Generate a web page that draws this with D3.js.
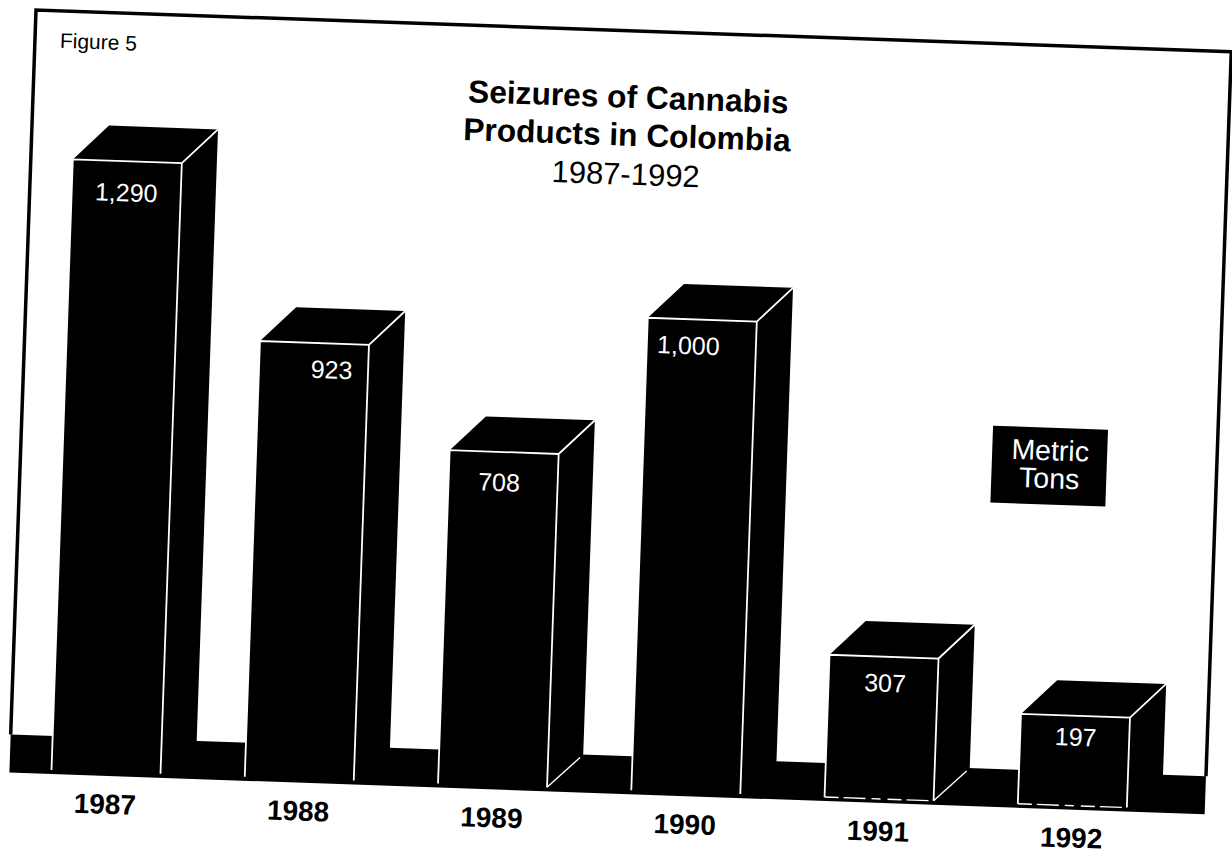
<!DOCTYPE html>
<html>
<head>
<meta charset="utf-8">
<script src="https://cdn.jsdelivr.net/npm/d3@7"></script>
<style>
  body { margin: 0; background: #fff; }
  svg { display: block; font-family: "Liberation Sans", Arial, sans-serif; }
</style>
</head>
<body>
<svg id="chart" width="1232" height="854"></svg>
<script>
const years = ["1987", "1988", "1989", "1990", "1991", "1992"]
const tons = [1290, 923, 708, 1000, 307, 197]
const valueLabels = ["1,290", "923", "708", "1,000", "307", "197"]
const titleLines = ["Seizures of Cannabis", "Products in Colombia", "1987-1992"]
const unitLines = ["Metric", "Tons"]

// label offsets from the bar centre, the originals were pasted on by hand
const labelNudgeX = [0, 18, -4, -13, 2, 1]
const labelNudgeY = [40, 35, 39, 35, 35, 30]

// the scan is about 2 degrees off, so everything hangs off one rotated group
const tilt = 2
const frameW = 1196
const baseY = 759    // bottom of front faces
const bandTop = 725
const bandBottom = 763
const depth = 35

const svg = d3.select("#chart")
const g = svg.append("g").attr("transform", `translate(36,10) rotate(${tilt})`)

const x = d3.scaleBand()
  .domain(years)
  .range([42, 1118])
  .paddingInner(0.436)
  .paddingOuter(0)

const y = d3.scaleLinear()
  .domain([0, 1290])
  .range([bandBottom, 148])

// frame
g.append("path")
  .attr("d", `M0,${bandTop} V0 H${frameW} V${bandTop}`)
  .attr("fill", "none")
  .attr("stroke", "#000")
  .attr("stroke-width", 3.5)

// floor band
g.append("rect")
  .attr("x", 0)
  .attr("y", bandTop)
  .attr("width", frameW)
  .attr("height", bandBottom - bandTop)
  .attr("fill", "#000")

const bars = g.selectAll(".bar")
  .data(years.map((year, i) => ({ year, value: tons[i], label: valueLabels[i], i })))
  .enter().append("g")
    .attr("class", "bar")

// top face
bars.append("path")
  .attr("d", d => {
    const x0 = x(d.year), x1 = x0 + x.bandwidth(), t = y(d.value)
    return `M${x0},${t} L${x0 + depth},${t - depth} H${x1 + depth} L${x1},${t} Z`
  })
  .attr("fill", "#000")

// side face
bars.append("path")
  .attr("d", d => {
    const x1 = x(d.year) + x.bandwidth(), t = y(d.value)
    return `M${x1},${t} L${x1 + depth},${t - depth} V${bandTop} L${x1},${baseY} Z`
  })
  .attr("fill", "#000")

// front face
bars.append("rect")
  .attr("x", d => x(d.year))
  .attr("y", d => y(d.value))
  .attr("width", x.bandwidth())
  .attr("height", d => baseY - y(d.value))
  .attr("fill", "#000")

// white edges
bars.append("path")
  .attr("d", d => {
    const x0 = x(d.year), x1 = x0 + x.bandwidth(), t = y(d.value)
    return `M${x0},${baseY} V${t} H${x1} V${baseY} M${x1},${t} L${x1 + depth},${t - depth}`
  })
  .attr("fill", "none")
  .attr("stroke", "#fff")
  .attr("stroke-width", 1.8)

// the bottom edge only survives the copier on the short bars
bars.filter(d => d.value < 400).append("path")
  .attr("d", d => `M${x(d.year)},${baseY} h${x.bandwidth()}`)
  .attr("stroke", "#fff")
  .attr("stroke-width", 1.4)
  .attr("stroke-dasharray", "14 5 22 6 9 7")

bars.filter(d => d.year === "1989" || d.year === "1991").append("path")
  .attr("d", d => {
    const x1 = x(d.year) + x.bandwidth()
    return `M${x1},${baseY} L${x1 + depth - 3},${bandTop + 3}`
  })
  .attr("stroke", "#fff")
  .attr("stroke-width", 1.4)

bars.append("text")
  .attr("x", d => x(d.year) + x.bandwidth() / 2 + labelNudgeX[d.i])
  .attr("y", d => y(d.value) + labelNudgeY[d.i])
  .attr("text-anchor", "middle")
  .attr("fill", "#fff")
  .attr("font-size", 25)
  .text(d => d.label)

// year axis
const axis = g.append("g")
  .attr("transform", `translate(0,${bandBottom})`)
  .call(d3.axisBottom(x).tickSize(0).tickPadding(18))
axis.select(".domain").remove()
axis.selectAll("text")
  .attr("font-family", "Liberation Sans")
  .attr("font-size", 28)
  .attr("font-weight", "bold")
  .attr("fill", "#000")

g.append("text")
  .attr("x", 25)
  .attr("y", 37)
  .attr("font-size", 21)
  .text("Figure 5")

// title
const titleY = [77, 115, 154]
g.selectAll(".title")
  .data(titleLines)
  .enter().append("text")
    .attr("class", "title")
    .attr("x", 595)
    .attr("y", (d, i) => titleY[i])
    .attr("text-anchor", "middle")
    .attr("font-size", (d, i) => i < 2 ? 31.7 : 31)
    .attr("font-weight", (d, i) => i < 2 ? "bold" : "normal")
    .text(d => d)

// unit box
g.append("rect")
  .attr("x", 971)
  .attr("y", 382)
  .attr("width", 115)
  .attr("height", 77)
  .attr("fill", "#000")

g.selectAll(".unit")
  .data(unitLines)
  .enter().append("text")
    .attr("class", "unit")
    .attr("x", 1029)
    .attr("y", (d, i) => 414.5 + i * 28)
    .attr("text-anchor", "middle")
    .attr("fill", "#fff")
    .attr("font-size", 28.5)
    .text(d => d)
</script>
</body>
</html>
